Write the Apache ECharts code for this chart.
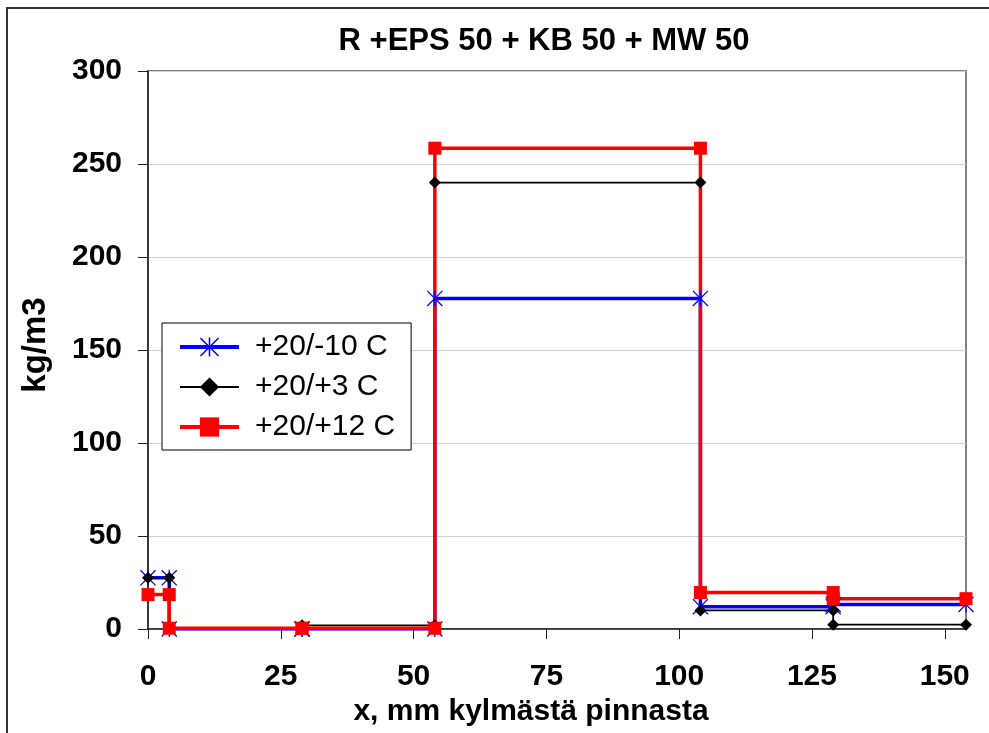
<!DOCTYPE html>
<html>
<head>
<meta charset="utf-8">
<script src="https://cdn.jsdelivr.net/npm/echarts@6/dist/echarts.min.js"></script>
<style>
  html, body { margin: 0; padding: 0; background: #fff; }
  #chart { width: 989px; height: 733px; }
</style>
</head>
<body>
<div id="chart"></div>
<script>
// x positions, mm from the cold surface (steps: each layer boundary twice)
var xs = [0, 4, 4, 29, 29, 54, 54, 104, 104, 129, 129, 154];

// kg/m3 per temperature case
var cold = [27.5, 27.5, 0, 0, 0, 0, 177.7, 177.7, 12, 12, 13.2, 13.2];
var mild = [27.5, 27.5, 0.5, 0.5, 2, 2, 240, 240, 10, 10, 2.3, 2.3];
var warm = [18.5, 18.5, 0.4, 0.4, 0.4, 0.4, 258.5, 258.5, 19.6, 19.6, 16.3, 16.3];

var seriesNames = ['+20/-10 C', '+20/+3 C', '+20/+12 C'];
var xTicks = [0, 25, 50, 75, 100, 125, 150];

function pairs(vals) {
  var out = [];
  for (var i = 0; i < xs.length; i++) out.push([xs[i], vals[i]]);
  return out;
}

// asterisk marker (x + vertical bar)
var starPath = 'path://M9.2 0 L10.8 0 L10.8 20 L9.2 20 Z ' +
  'M1.1 0 L20 18.9 L18.9 20 L0 1.1 Z ' +
  'M18.9 0 L20 1.1 L1.1 20 L0 18.9 Z';

var chart = echarts.init(document.getElementById('chart'));

var fam = 'Liberation Sans, Arial, sans-serif';

var option = {
  backgroundColor: '#fff',
  animation: false,
  title: {
    text: 'R +EPS 50 + KB 50 + MW 50',
    left: 539,
    textAlign: 'center',
    top: 21,
    textStyle: { fontFamily: fam, fontWeight: 'bold', fontSize: 31, color: '#000' }
  },
  graphic: [{
    type: 'rect',
    shape: { x: 7, y: 8, width: 1000, height: 800 },
    style: { fill: 'none', stroke: '#333', lineWidth: 2 },
    silent: true
  }],
  legend: {
    orient: 'vertical',
    left: 162,
    top: 323,
    padding: [9, 16, 8, 16],
    itemGap: 10,
    itemWidth: 59,
    itemHeight: 24,
    backgroundColor: '#fff',
    borderColor: '#000',
    borderWidth: 1,
    borderRadius: 0,
    textStyle: { fontFamily: fam, fontSize: 30, color: '#000', padding: [0, 0, 0, 11] },
    data: [
      { name: seriesNames[0], lineStyle: { width: 4 } },
      { name: seriesNames[1], lineStyle: { width: 2 } },
      { name: seriesNames[2], lineStyle: { width: 4 } }
    ]
  },
  grid: {
    left: 148,
    right: 23,
    top: 71,
    bottom: 104,
    show: true,
    borderColor: '#808080',
    borderWidth: 2,
    backgroundColor: '#fff'
  },
  xAxis: {
    type: 'value',
    min: 0,
    max: 154,
    interval: 25,
    name: 'x, mm kylmästä pinnasta',
    nameLocation: 'middle',
    nameGap: 62,
    nameTextStyle: { fontFamily: fam, fontWeight: 'bold', fontSize: 30, color: '#000', padding: [0, 52, 0, 0] },
    axisLine: { onZero: false, lineStyle: { color: '#222', width: 1.5 } },
    axisTick: { show: true, length: 10, customValues: xTicks, lineStyle: { color: '#222', width: 1 } },
    axisLabel: { customValues: xTicks, margin: 33, fontFamily: fam, fontWeight: 'bold', fontSize: 30, color: '#000' },
    splitLine: { show: false }
  },
  yAxis: {
    type: 'value',
    min: 0,
    max: 300,
    interval: 50,
    name: 'kg/m3',
    nameLocation: 'middle',
    nameGap: 96,
    nameTextStyle: { fontFamily: fam, fontWeight: 'bold', fontSize: 33, color: '#000', padding: [0, 0, 0, 10] },
    axisLine: { show: true, lineStyle: { color: '#222', width: 1.5 } },
    axisTick: { show: true, length: 10, lineStyle: { color: '#222', width: 1 } },
    axisLabel: { margin: 26, fontFamily: fam, fontWeight: 'bold', fontSize: 30, color: '#000' },
    splitLine: { show: true, lineStyle: { color: '#d0d0d0', width: 1 } }
  },
  series: [
    {
      name: seriesNames[0],
      type: 'line',
      data: pairs(cold),
      symbol: starPath,
      symbolSize: 16,
      lineStyle: { color: '#0000ff', width: 3.5 },
      itemStyle: { color: '#0000ff' }
    },
    {
      name: seriesNames[1],
      type: 'line',
      data: pairs(mild),
      symbol: 'diamond',
      symbolSize: 12,
      lineStyle: { color: '#000', width: 1.8 },
      itemStyle: { color: '#000' }
    },
    {
      name: seriesNames[2],
      type: 'line',
      data: pairs(warm),
      symbol: 'rect',
      symbolSize: 13,
      lineStyle: { color: '#ff0000', width: 3.5 },
      itemStyle: { color: '#ff0000' }
    }
  ]
};

chart.setOption(option);
</script>
</body>
</html>
